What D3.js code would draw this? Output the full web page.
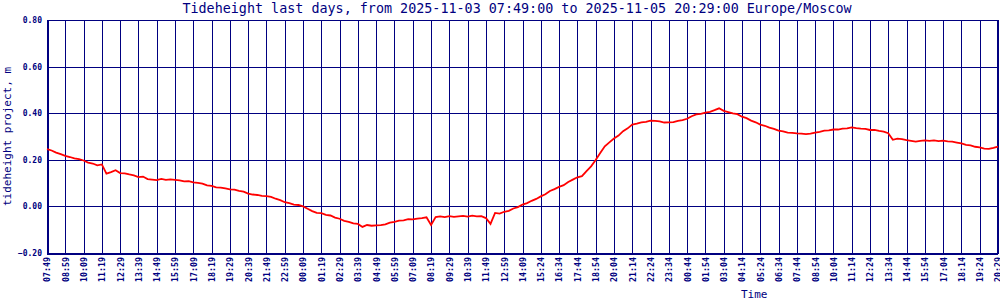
<!DOCTYPE html>
<html>
<head>
<meta charset="utf-8">
<script src="https://cdn.jsdelivr.net/npm/d3@7"></script>
<style>
  html, body { margin: 0; padding: 0; background: #ffffff; }
  svg { display: block; }
</style>
</head>
<body>
<svg id="chart" width="1000" height="300"></svg>
<script>
const chartTitle = "Tideheight last days, from 2025-11-03 07:49:00 to 2025-11-05 20:29:00 Europe/Moscow";
const yAxisTitle = "tideheight project, m";
const xAxisTitle = "Time";

const timeLabels = [
  "07:49","08:59","10:09","11:19","12:29","13:39","14:49","15:59","17:09","18:19",
  "19:29","20:39","21:49","22:59","00:09","01:19","02:29","03:39","04:49","05:59",
  "07:09","08:19","09:29","10:39","11:49","12:59","14:09","15:24","16:34","17:44",
  "18:54","20:04","21:14","22:24","23:34","00:44","01:54","03:04","04:14","05:24",
  "06:34","07:44","08:54","10:04","11:14","12:24","13:34","14:44","15:54","17:04",
  "18:14","19:24","20:29"
];

const yTicks = [-0.20, 0.00, 0.20, 0.40, 0.60, 0.80];

const tideHeights = [
  0.246,0.240,0.231,0.224,0.217,0.212,0.206,0.203,0.197,0.188,
  0.184,0.176,0.180,0.141,0.147,0.155,0.143,0.142,0.137,0.133,
  0.126,0.128,0.117,0.115,0.113,0.118,0.114,0.116,0.114,0.112,
  0.107,0.108,0.103,0.101,0.098,0.090,0.088,0.082,0.081,0.077,
  0.073,0.072,0.067,0.063,0.055,0.051,0.049,0.045,0.044,0.041,
  0.033,0.027,0.018,0.014,0.008,0.006,0.000,-0.010,-0.020,-0.028,
  -0.029,-0.036,-0.039,-0.048,-0.053,-0.062,-0.066,-0.073,-0.075,-0.088,
  -0.080,-0.083,-0.081,-0.080,-0.077,-0.070,-0.066,-0.061,-0.060,-0.055,
  -0.056,-0.052,-0.050,-0.047,-0.080,-0.046,-0.043,-0.046,-0.042,-0.045,
  -0.043,-0.041,-0.044,-0.040,-0.043,-0.042,-0.050,-0.075,-0.028,-0.031,
  -0.023,-0.019,-0.009,-0.003,0.008,0.014,0.024,0.032,0.043,0.052,
  0.066,0.074,0.084,0.091,0.105,0.115,0.125,0.130,0.151,0.172,
  0.199,0.229,0.258,0.275,0.291,0.304,0.323,0.335,0.351,0.355,
  0.361,0.363,0.368,0.367,0.365,0.360,0.361,0.362,0.367,0.370,
  0.376,0.387,0.395,0.397,0.402,0.406,0.413,0.421,0.410,0.405,
  0.399,0.396,0.385,0.379,0.368,0.361,0.351,0.346,0.338,0.333,
  0.325,0.322,0.317,0.316,0.313,0.312,0.310,0.312,0.317,0.320,
  0.325,0.326,0.330,0.330,0.334,0.335,0.339,0.336,0.334,0.333,
  0.328,0.328,0.324,0.321,0.314,0.286,0.291,0.289,0.284,0.281,
  0.278,0.281,0.283,0.281,0.283,0.280,0.282,0.279,0.278,0.274,
  0.270,0.264,0.262,0.256,0.253,0.248,0.247,0.251,0.257
];

const NAVY = "#000080";
const RED = "#ff0000";
const FONT = "'DejaVu Sans Mono', 'Liberation Mono', monospace";

const svg = d3.select("#chart");
const margin = { left: 47, right: 2, top: 20, bottom: 47 };
const W = 1000, H = 300;
const x0 = margin.left, x1 = W - margin.right;
const y0 = H - margin.bottom, y1 = margin.top;

const xTick = d3.scaleLinear().domain([0, timeLabels.length - 1]).range([x0, x1]);
const xData = d3.scaleLinear().domain([0, tideHeights.length - 1]).range([x0, x1]);
const y = d3.scaleLinear().domain([-0.2, 0.8]).range([y0, y1]);

// Title
svg.append("text")
  .attr("x", 517).attr("y", 13)
  .attr("text-anchor", "middle")
  .attr("font-family", FONT).attr("font-size", "13.4px")
  .attr("fill", NAVY)
  .text(chartTitle);

// Horizontal gridlines
const gridG = svg.append("g").attr("shape-rendering", "crispEdges");
gridG.selectAll("line.h").data(yTicks).enter().append("line")
  .attr("x1", x0).attr("x2", x1)
  .attr("y1", d => Math.round(y(d)) + 0.5).attr("y2", d => Math.round(y(d)) + 0.5)
  .attr("stroke", NAVY).attr("stroke-width", 1);

// Vertical gridlines
gridG.selectAll("line.v").data(timeLabels).enter().append("line")
  .attr("x1", (d, i) => Math.round(xTick(i)) + 0.5).attr("x2", (d, i) => Math.round(xTick(i)) + 0.5)
  .attr("y1", y1).attr("y2", y0)
  .attr("stroke", NAVY).attr("stroke-width", 1);

// Frame: left axis, bottom axis, right border (thicker)
gridG.append("line").attr("x1", x0 + 0.5).attr("x2", x0 + 0.5).attr("y1", y1).attr("y2", y0 + 1)
  .attr("stroke", NAVY).attr("stroke-width", 2);
gridG.append("line").attr("x1", x1).attr("x2", x1).attr("y1", y1).attr("y2", y0 + 1)
  .attr("stroke", NAVY).attr("stroke-width", 2);
gridG.append("line").attr("x1", x0).attr("x2", x1).attr("y1", y0 + 0.5).attr("y2", y0 + 0.5)
  .attr("stroke", NAVY).attr("stroke-width", 2);

// Y axis tick labels
const yAxis = d3.axisLeft(y).tickValues(yTicks).tickFormat(d3.format(".2f")).tickSize(0).tickPadding(5);
const yAxisG = svg.append("g").attr("transform", `translate(${x0},0)`).call(yAxis);
yAxisG.select(".domain").remove();
yAxisG.selectAll("text")
  .attr("font-family", FONT).attr("font-size", "8px").attr("font-weight", "bold")
  .attr("fill", NAVY);

// X axis tick labels (rotated)
const xAxis = d3.axisBottom(xTick)
  .tickValues(d3.range(timeLabels.length))
  .tickFormat(i => timeLabels[i]).tickSize(0);
const xAxisG = svg.append("g").attr("transform", `translate(0,${y0})`).call(xAxis);
xAxisG.select(".domain").remove();
xAxisG.selectAll("text")
  .attr("font-family", FONT).attr("font-size", "8.3px").attr("font-weight", "bold")
  .attr("fill", NAVY)
  .attr("text-anchor", "end")
  .attr("transform", "rotate(-90)")
  .attr("x", -4).attr("y", 0).attr("dy", "0.35em");

// Axis titles
svg.append("text")
  .attr("transform", `translate(11,${(y0 + y1) / 2}) rotate(-90)`)
  .attr("text-anchor", "middle")
  .attr("font-family", FONT).attr("font-size", "11px")
  .attr("fill", NAVY)
  .text(yAxisTitle);

svg.append("text")
  .attr("x", 741).attr("y", 298)
  .attr("font-family", FONT).attr("font-size", "11px")
  .attr("fill", NAVY)
  .text(xAxisTitle);

// Data line
const line = d3.line()
  .x((d, i) => xData(i))
  .y(d => y(d));
svg.append("path")
  .datum(tideHeights)
  .attr("fill", "none")
  .attr("stroke", RED)
  .attr("stroke-width", 1.8)
  .attr("stroke-linejoin", "miter")
  .attr("d", line);
</script>
</body>
</html>
